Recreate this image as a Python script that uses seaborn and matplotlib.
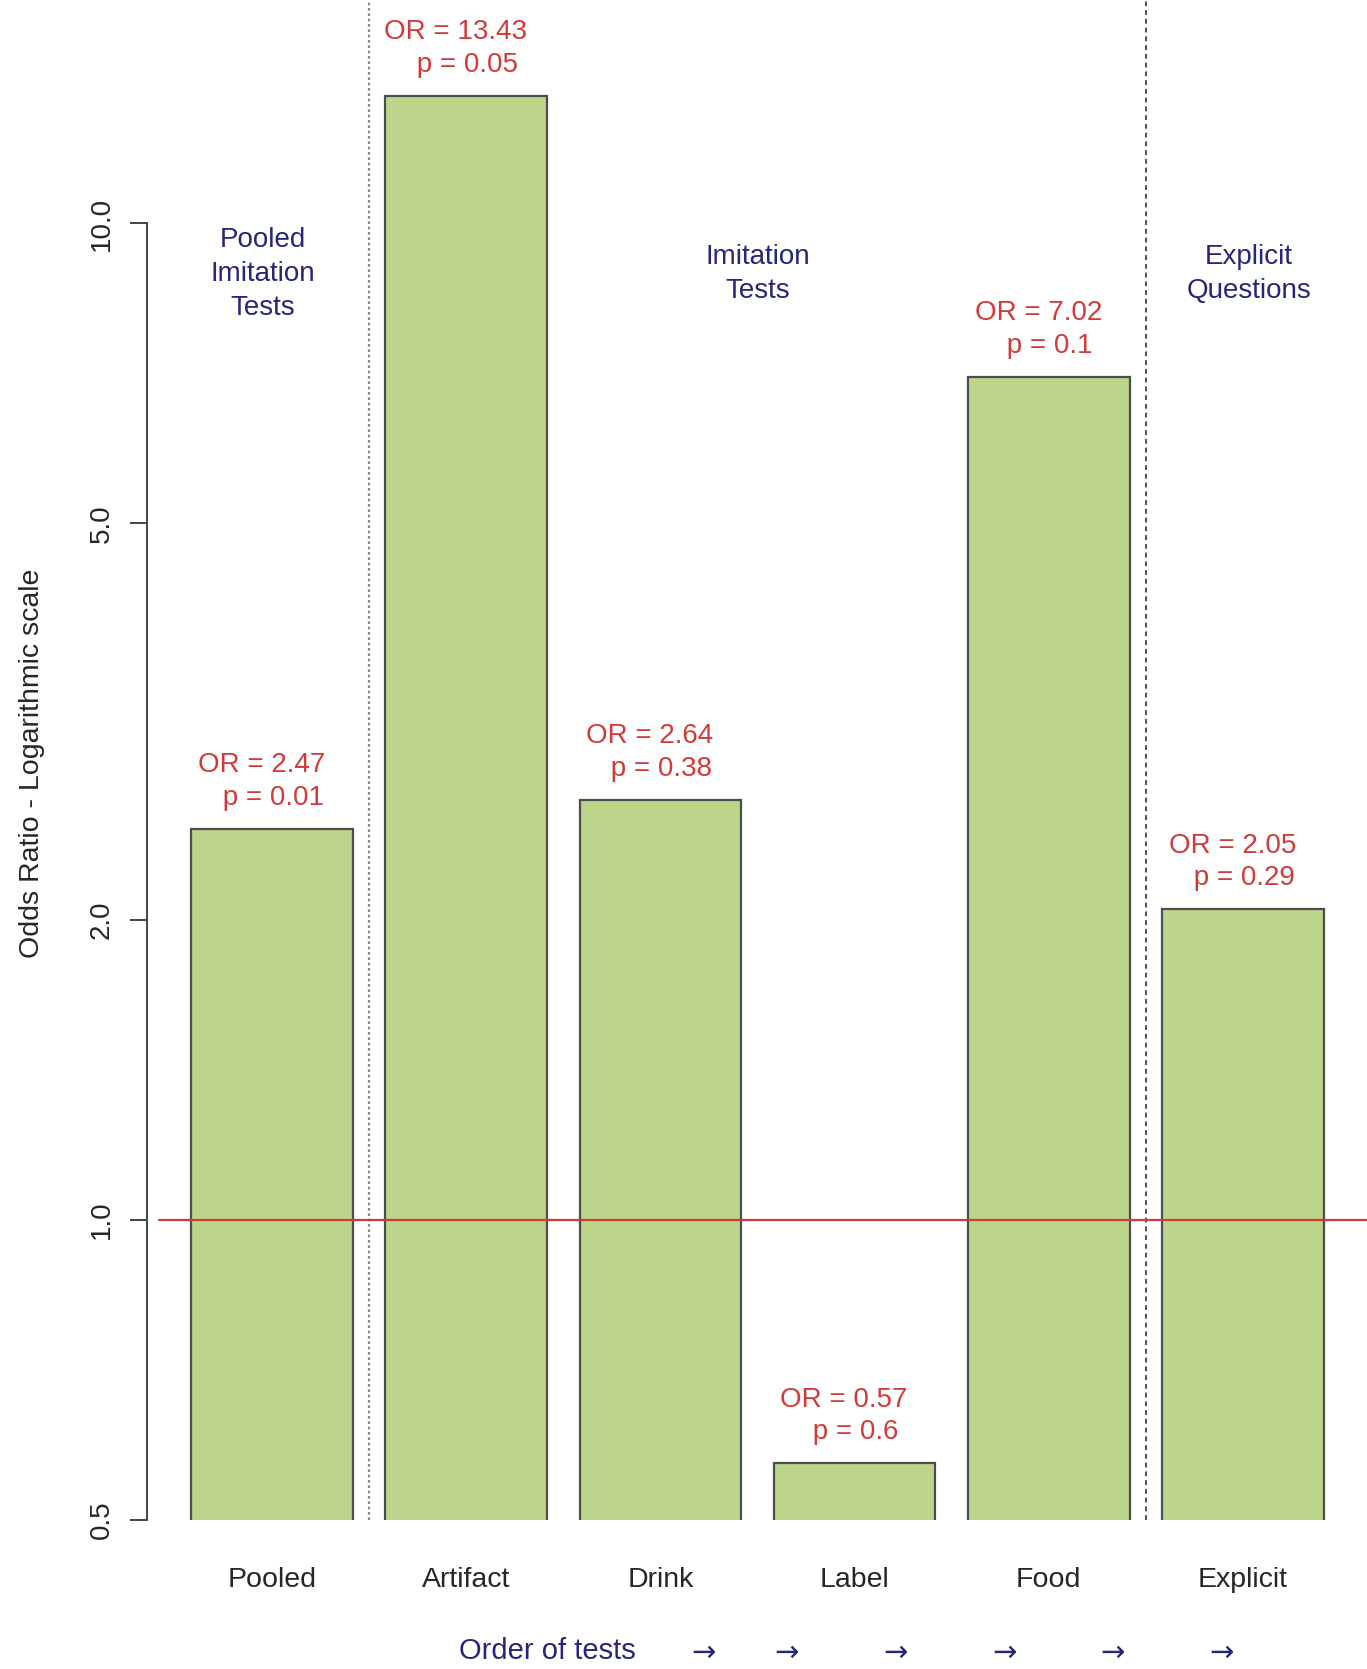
import matplotlib
matplotlib.use("Agg")
import matplotlib.pyplot as plt
import matplotlib.transforms as mtransforms
import pandas as pd
import seaborn as sns

sns.set_style("white")
plt.rcParams["font.family"] = ["Liberation Sans", "DejaVu Sans"]

# data
tests = ["Pooled", "Artifact", "Drink", "Label", "Food", "Explicit"]
odds_ratio = [2.47, 13.43, 2.64, 0.57, 7.02, 2.05]
p_values = ["0.01", "0.05", "0.38", "0.6", "0.1", "0.29"]
group_labels = ["Pooled\nImitation\nTests", "Imitation\nTests", "Explicit\nQuestions"]
y_ticks = [0.5, 1.0, 2.0, 5.0, 10.0]
y_tick_labels = ["0.5", "1.0", "2.0", "5.0", "10.0"]

df = pd.DataFrame({"test": tests, "odds": odds_ratio})

BAR = "#BCD58A"
EDGE = "#4d4d4d"
RED = "#D23A3A"
NAVY = "#26267A"

fig = plt.figure(figsize=(13.67, 16.69), dpi=100)
ax = fig.add_axes([147 / 1367, 149 / 1669, 1220 / 1367, 1520 / 1669])

sns.barplot(
    data=df, x="test", y="odds", ax=ax,
    color=BAR, saturation=1, edgecolor=EDGE, linewidth=1.6,
    width=1 / 1.2, errorbar=None, log_scale=True,
)

ax.set_yscale("log")
ax.set_ylim(0.5, 16.76)
ax.set_xlim(-0.645, 5.64)

# reference line at OR = 1 and group separators
ax.plot([-0.583, 5.64], [1, 1], color=RED, lw=1.6, zorder=3)
ax.axvline(0.5, color="#8a8a8a", lw=1.6, ls=(0, (1.2, 1.2)), zorder=1)
ax.axvline(4.5, color="#505050", lw=1.4, ls=(0, (2.5, 2)), zorder=1)

# odds ratio labels
for i, (o, p) in enumerate(zip(odds_ratio, p_values)):
    ax.annotate(f"OR = {o:.2f}  \n p = {p}", xy=(i, o), xytext=(-2, 13),
                textcoords="offset points", ha="center", va="bottom",
                color=RED, fontsize=20, linespacing=1.32)

# group labels
for gx, txt in zip([-0.05, 2.5, 5.03], group_labels):
    ax.text(gx, 8.9, txt, ha="center", va="center", color=NAVY,
            fontsize=20, linespacing=1.42)

# axes styling (R look)
for s in ["top", "right", "bottom"]:
    ax.spines[s].set_visible(False)
ax.spines["left"].set_bounds(0.5, 10)
ax.spines["left"].set_color("#444444")
ax.spines["left"].set_linewidth(1.4)

ax.set_yticks(y_ticks)
ax.set_yticklabels(y_tick_labels, rotation=90, va="center")
ax.yaxis.set_minor_locator(matplotlib.ticker.NullLocator())
ax.tick_params(axis="y", length=12, width=1.4, color="#444444", pad=11,
               labelsize=20, left=True)
ax.tick_params(axis="x", length=0, pad=34, labelsize=20.5)
ax.set_xlabel("")
ax.set_ylabel("Odds Ratio - Logarithmic scale", fontsize=20.5)
ax.yaxis.set_label_coords(-0.084, 0.498)

# order of tests footer
trans = mtransforms.blended_transform_factory(ax.transData, ax.transAxes)
ax.text(1.42, -0.0865, "Order of tests", transform=trans, ha="center",
        va="center", color=NAVY, fontsize=21)
for ax_x in [2.22, 2.65, 3.21, 3.77, 4.33, 4.89]:
    ax.text(ax_x, -0.0875, "\u2192", transform=trans, ha="center",
            va="center", color=NAVY, fontsize=21, family="DejaVu Sans")

fig.savefig("out.png", dpi=100)
